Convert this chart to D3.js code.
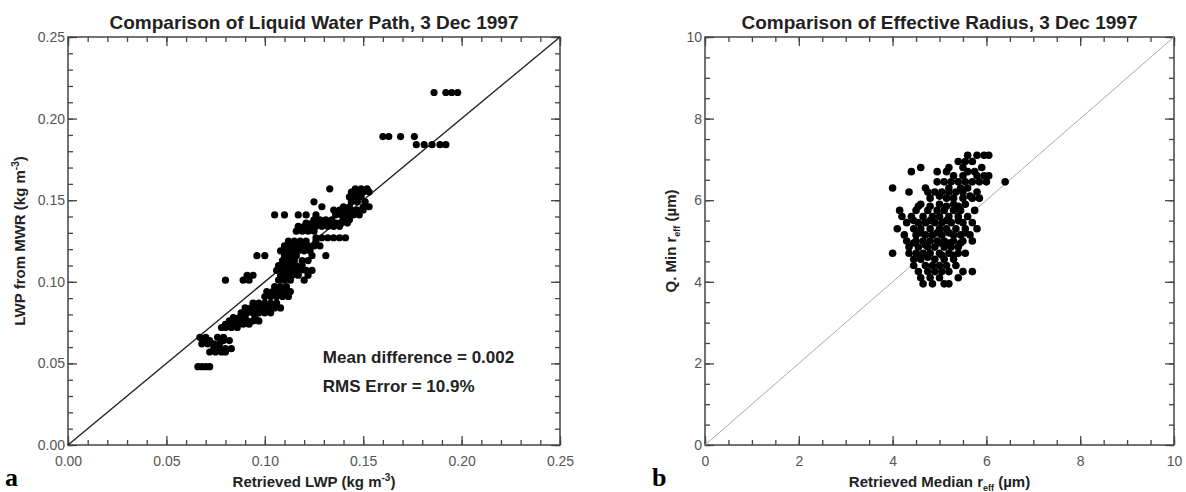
<!DOCTYPE html>
<html><head><meta charset="utf-8">
<script src="https://cdn.jsdelivr.net/npm/d3@7/dist/d3.min.js"></script>
<style>body{margin:0;background:#fff}svg{display:block}</style>
</head><body><svg id="c" width="1186" height="492"></svg>
<script>
// ---- data ----
const lwpMajorTicks = [0, 0.05, 0.10, 0.15, 0.20, 0.25];
const reffMajorTicks = [0, 2, 4, 6, 8, 10];
const lwpStats = ["Mean difference = 0.002", "RMS Error = 10.9%"];
// [retrieved LWP, MWR LWP]
const lwpPoints = [
[0.066,0.048],[0.068,0.048],[0.070,0.048],[0.072,0.048],
[0.072,0.057],[0.075,0.057],[0.078,0.057],[0.080,0.057],
[0.074,0.059],[0.077,0.059],[0.080,0.059],[0.083,0.059],
[0.068,0.062],[0.071,0.062],[0.074,0.062],[0.077,0.062],
[0.069,0.064],[0.072,0.064],[0.079,0.064],[0.082,0.064],
[0.067,0.066],[0.070,0.066],[0.076,0.066],[0.079,0.066],
[0.078,0.072],[0.080,0.072],[0.083,0.072],[0.086,0.072],
[0.080,0.074],[0.083,0.074],[0.086,0.074],[0.089,0.074],[0.092,0.074],
[0.082,0.076],[0.085,0.076],[0.088,0.076],[0.091,0.076],[0.094,0.076],[0.097,0.076],
[0.084,0.078],[0.087,0.078],[0.090,0.078],[0.095,0.078],
[0.088,0.081],[0.091,0.081],[0.094,0.081],[0.097,0.081],[0.100,0.081],[0.103,0.081],
[0.090,0.084],[0.093,0.084],[0.096,0.084],[0.099,0.084],[0.102,0.084],[0.105,0.084],[0.108,0.084],
[0.094,0.087],[0.097,0.087],[0.100,0.087],[0.103,0.087],[0.106,0.087],
[0.100,0.091],[0.103,0.091],[0.106,0.091],[0.109,0.091],[0.112,0.091],
[0.101,0.094],[0.104,0.094],[0.107,0.094],[0.110,0.094],[0.113,0.094],
[0.105,0.097],[0.108,0.097],[0.111,0.097],
[0.080,0.101],[0.089,0.101],[0.092,0.101],[0.107,0.101],[0.110,0.101],[0.113,0.101],[0.120,0.101],
[0.091,0.104],[0.094,0.104],[0.108,0.104],[0.111,0.104],[0.114,0.104],[0.117,0.104],[0.122,0.104],
[0.106,0.107],[0.109,0.107],[0.112,0.107],[0.115,0.107],[0.118,0.107],[0.121,0.107],[0.124,0.107],
[0.107,0.110],[0.110,0.110],[0.113,0.110],[0.116,0.110],[0.119,0.110],
[0.109,0.113],[0.112,0.113],[0.115,0.113],[0.119,0.113],[0.122,0.113],
[0.096,0.116],[0.100,0.116],[0.110,0.116],[0.113,0.116],[0.116,0.116],[0.124,0.116],[0.131,0.116],
[0.108,0.119],[0.111,0.119],[0.114,0.119],[0.117,0.119],[0.120,0.119],[0.123,0.119],
[0.110,0.122],[0.113,0.122],[0.116,0.122],[0.119,0.122],[0.122,0.122],[0.125,0.122],[0.128,0.122],
[0.112,0.125],[0.115,0.125],[0.118,0.125],[0.121,0.125],[0.126,0.125],
[0.126,0.127],[0.129,0.127],[0.132,0.127],[0.135,0.127],[0.138,0.127],[0.141,0.127],
[0.116,0.131],[0.119,0.131],[0.122,0.131],[0.125,0.131],
[0.117,0.134],[0.120,0.134],[0.123,0.134],[0.126,0.134],[0.129,0.134],[0.132,0.134],[0.135,0.134],[0.138,0.134],
[0.121,0.136],[0.124,0.136],[0.127,0.136],[0.130,0.136],[0.133,0.136],[0.136,0.136],[0.139,0.136],[0.142,0.136],
[0.125,0.138],[0.128,0.138],[0.131,0.138],[0.134,0.138],[0.140,0.138],[0.143,0.138],
[0.105,0.141],[0.110,0.141],[0.117,0.141],[0.121,0.141],[0.126,0.141],[0.136,0.141],[0.139,0.141],[0.142,0.141],[0.145,0.141],[0.148,0.141],
[0.135,0.144],[0.138,0.144],[0.141,0.144],[0.144,0.144],[0.147,0.144],[0.150,0.144],
[0.129,0.146],[0.140,0.146],[0.143,0.146],[0.150,0.146],[0.153,0.146],
[0.125,0.149],[0.144,0.149],[0.147,0.149],[0.151,0.149],
[0.143,0.152],[0.146,0.152],[0.149,0.152],
[0.144,0.155],[0.147,0.155],[0.150,0.155],[0.153,0.155],
[0.133,0.157],[0.146,0.157],[0.149,0.157],[0.152,0.157],
[0.160,0.189],[0.163,0.189],[0.169,0.189],[0.176,0.189],
[0.177,0.184],[0.181,0.184],[0.185,0.184],[0.189,0.184],[0.192,0.184],
[0.186,0.216],[0.192,0.216],[0.195,0.216],[0.198,0.216]
];
// [retrieved median r_eff, Q. min r_eff] (micron)
const reffPoints = [
[5.6,7.1],[5.8,7.1],[5.95,7.1],[6.05,7.1],
[5.4,6.95],[5.55,6.95],[5.7,6.95],
[4.6,6.8],[5.2,6.8],[5.5,6.8],[5.9,6.8],
[4.4,6.7],[4.95,6.7],[5.15,6.7],[5.6,6.7],[5.75,6.7],
[5.3,6.6],[5.5,6.6],[5.8,6.6],[5.95,6.6],[6.05,6.6],
[4.95,6.45],[5.1,6.45],[5.25,6.45],[5.4,6.45],[5.55,6.45],[5.7,6.45],[5.85,6.45],[6.0,6.45],[6.4,6.45],
[4.0,6.3],[4.7,6.3],[5.2,6.3],[5.45,6.3],[5.6,6.3],
[4.35,6.2],[4.75,6.2],[4.9,6.2],[5.05,6.2],[5.2,6.2],[5.35,6.2],[5.5,6.2],[5.8,6.2],
[4.8,6.05],[5.0,6.1],[5.15,6.05],[5.3,6.05],[5.5,6.05],[5.65,6.1],[5.7,6.05],[5.85,6.05],
[4.6,5.9],[5.0,5.9],[5.3,5.9],[5.55,5.9],
[4.55,5.85],[4.8,5.85],[5.15,5.85],[5.4,5.85],
[4.15,5.75],[4.5,5.75],[4.75,5.75],[4.95,5.75],[5.1,5.75],[5.3,5.75],[5.45,5.75],[5.75,5.75],
[4.2,5.6],[4.4,5.6],[4.65,5.6],[4.85,5.6],[5.0,5.6],[5.2,5.6],[5.4,5.6],[5.6,5.6],
[4.45,5.5],[4.8,5.5],[5.15,5.5],[5.4,5.5],
[4.3,5.45],[4.55,5.45],[4.7,5.45],[4.9,5.45],[5.05,5.45],[5.25,5.45],[5.5,5.45],[5.7,5.45],
[4.1,5.3],[4.45,5.3],[4.6,5.3],[4.8,5.3],[5.0,5.3],[5.15,5.3],[5.35,5.3],[5.55,5.3],[5.8,5.3],
[4.6,5.2],[4.95,5.2],[5.2,5.2],[5.55,5.2],
[4.25,5.15],[4.5,5.15],[4.7,5.15],[4.85,5.15],[5.05,5.15],[5.3,5.15],[5.45,5.15],[5.65,5.15],
[4.3,5.0],[4.5,5.0],[4.65,5.0],[4.8,5.0],[4.95,5.0],[5.1,5.0],[5.3,5.0],[5.5,5.0],[5.7,5.0],
[4.45,4.95],[4.7,4.9],[5.0,4.95],[5.2,4.95],[5.45,4.95],
[4.35,4.85],[4.55,4.85],[4.75,4.85],[4.9,4.85],[5.1,4.85],[5.25,4.85],[5.4,4.85],
[4.0,4.7],[4.35,4.7],[4.5,4.7],[4.65,4.7],[4.8,4.7],[5.0,4.7],[5.2,4.7],[5.4,4.7],[5.55,4.7],
[4.55,4.65],[4.75,4.6],[5.05,4.65],[5.3,4.65],
[4.45,4.55],[4.6,4.55],[4.9,4.55],[5.1,4.55],[5.3,4.55],
[4.45,4.4],[4.7,4.4],[4.85,4.4],[5.0,4.4],[5.15,4.4],[5.35,4.4],
[4.55,4.25],[4.75,4.25],[4.9,4.25],[5.05,4.25],[5.2,4.25],[5.5,4.25],[5.7,4.25],
[4.6,4.1],[4.8,4.1],[5.0,4.1],[5.4,4.1],
[4.65,3.95],[4.85,3.95],[5.1,3.95],[5.2,3.95]
];

// ---- drawing ----
const svg = d3.select("#c");
const FONT = "Liberation Sans, Arial, Helvetica, sans-serif";

function panel(o) {
  const x = d3.scaleLinear().domain(o.domain).range([o.x0, o.x1]);
  const y = d3.scaleLinear().domain(o.domain).range([o.y1, o.y0]);
  const g = svg.append("g");
  const fmt = o.fmt;
  const mk = (axisFn, scale, vals, size, labels, pad) =>
    axisFn(scale).tickValues(vals).tickSizeInner(-size).tickSizeOuter(0)
      .tickPadding(pad).tickFormat(labels ? fmt : "");
  const sides = [
    [d3.axisBottom, x, `translate(0,${o.y1})`, true, 9],
    [d3.axisTop, x, `translate(0,${o.y0})`, false, 3],
    [d3.axisLeft, y, `translate(${o.x0},0)`, true, 3],
    [d3.axisRight, y, `translate(${o.x1},0)`, false, 3]
  ];
  sides.forEach(([fn, sc, tr, lab, pad]) => {
    const a1 = g.append("g").attr("transform", tr).call(mk(fn, sc, o.minor, 5, false, pad));
    const a2 = g.append("g").attr("transform", tr).call(mk(fn, sc, o.major, 9, lab, pad));
    [a1, a2].forEach(a => {
      a.select(".domain").remove();
      a.selectAll("line").attr("stroke", "#444").attr("stroke-width", 1.3);
      a.selectAll("text").attr("fill", "#555").attr("font-family", FONT).attr("font-size", 14);
    });
    if (fn === d3.axisBottom) a2.selectAll("text").attr("dy", "0.85em");
  });
  g.append("rect").attr("x", o.x0).attr("y", o.y0)
    .attr("width", o.x1 - o.x0).attr("height", o.y1 - o.y0)
    .attr("fill", "none").attr("stroke", "#444").attr("stroke-width", 1.5);
  // 1:1 line
  g.append("line").attr("x1", x(o.domain[0])).attr("y1", y(o.domain[0]))
    .attr("x2", x(o.domain[1])).attr("y2", y(o.domain[1]))
    .attr("stroke", o.lineColor).attr("stroke-width", o.lineWidth);
  // points
  g.append("g").selectAll("circle").data(o.points).join("circle")
    .attr("cx", d => x(d[0])).attr("cy", d => y(d[1])).attr("r", o.r).attr("fill", "#000");
  // title
  g.append("text").attr("x", (o.x0 + o.x1) / 2).attr("y", 29).attr("text-anchor", "middle")
    .attr("font-family", FONT).attr("font-weight", "bold").attr("font-size", 19)
    .attr("fill", "#222").text(o.title);
  // x label
  const xl = g.append("text").attr("x", (o.x0 + o.x1) / 2).attr("y", 487).attr("text-anchor", "middle")
    .attr("font-family", FONT).attr("font-weight", "bold").attr("font-size", 15).attr("fill", "#222");
  o.xlabel(xl);
  const yl = g.append("text").attr("transform", `translate(${o.ylx},${(o.y0 + o.y1) / 2}) rotate(-90)`)
    .attr("text-anchor", "middle")
    .attr("font-family", FONT).attr("font-weight", "bold").attr("font-size", 15).attr("fill", "#222");
  o.ylabel(yl);
  // panel letter
  g.append("text").attr("x", o.letterX).attr("y", 486)
    .attr("font-family", "Liberation Serif, Times New Roman, serif").attr("font-weight", "bold")
    .attr("font-size", 26).attr("fill", "#000").text(o.letter);
  return {g, x, y};
}

const sup = (t, main, s, tail) => {
  t.append("tspan").text(main);
  t.append("tspan").attr("font-size", 10).attr("dy", -6).text(s);
  t.append("tspan").attr("dy", 6).text(tail);
};
const sub = (t, main, s, tail) => {
  t.append("tspan").text(main);
  t.append("tspan").attr("font-size", 9).attr("dy", 4).text(s);
  t.append("tspan").attr("dy", -4).text(tail);
};

const lwpMinor = d3.range(0, 26).map(i => i / 100);
const left = panel({
  domain: [0, 0.25], x0: 68, x1: 560, y0: 37, y1: 445,
  major: lwpMajorTicks, minor: lwpMinor, fmt: d3.format(".2f"),
  points: lwpPoints, lineColor: "#222", lineWidth: 1.4, r: 3.6,
  title: "Comparison of Liquid Water Path, 3 Dec 1997",
  xlabel: t => sup(t, "Retrieved LWP (kg m", "-3", ")"),
  ylabel: t => sup(t, "LWP from MWR (kg m", "-3", ")"),
  ylx: 25, letter: "a", letterX: 5
});
left.g.selectAll(".stat").data(lwpStats).join("text").attr("class", "stat")
  .attr("x", left.x(0.1295)).attr("y", (d, i) => left.y(0.0505) + i * 29)
  .attr("font-family", FONT).attr("font-weight", "bold").attr("font-size", 17).attr("fill", "#222")
  .text(d => d);

const reffMinor = d3.range(0, 21).map(i => i / 2);
panel({
  domain: [0, 10], x0: 705, x1: 1174, y0: 37, y1: 445,
  major: reffMajorTicks, minor: reffMinor, fmt: d3.format("d"),
  points: reffPoints, lineColor: "#aaa", lineWidth: 1, r: 3.8,
  title: "Comparison of Effective Radius, 3 Dec 1997",
  xlabel: t => sub(t, "Retrieved Median r", "eff", " (\u00b5m)"),
  ylabel: t => sub(t, "Q. Min r", "eff", " (\u00b5m)"),
  ylx: 676, letter: "b", letterX: 652
});
</script></body></html>
